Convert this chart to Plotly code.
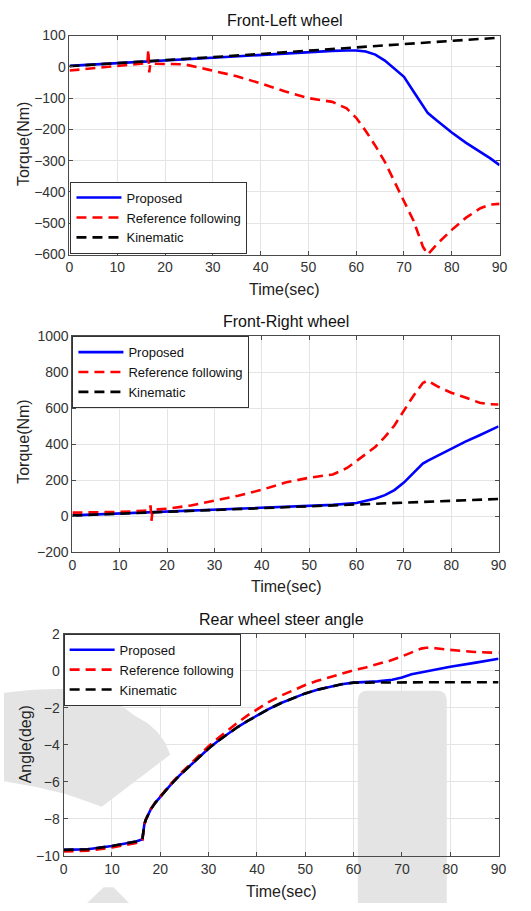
import plotly.graph_objects as go

W, H = 531, 911

# ---------------- data ----------------
# Front-Left wheel torque (Nm)
fl_t_prop = [0, 10, 20, 30, 40, 50, 55, 58, 60, 62, 64, 66, 68, 70, 72, 74, 75, 77, 80, 83, 86, 88, 90]
fl_prop = [3, 12, 21, 30, 39, 47, 51, 52, 52, 49, 39, 20, -6, -32, -79, -126, -148, -173, -210, -243, -272, -292, -314]
fl_t_ref = [0, 5, 10, 15, 16.3, 16.5, 16.7, 16.9, 18, 20, 24, 29, 35, 40, 45, 50, 55, 58, 60, 62, 64, 66, 68,
            70, 72, 74, 75, 77, 80, 83, 86, 88, 90]
fl_ref = [-12, -5, 2, 9, 12, 55, -18, 10, 10, 10, 8, -9, -30, -53, -78, -100, -112, -133, -163, -205, -252, -304,
          -367, -429, -492, -576, -599, -565, -521, -482, -452, -440, -438]
fl_t_kin = [0, 10, 20, 30, 40, 50, 60, 70, 80, 90]
fl_kin = [2, 11, 21, 31, 41, 52, 63, 74, 83, 93]

# Front-Right wheel torque (Nm)
fr_t_prop = [0, 10, 20, 30, 40, 50, 55, 60, 62, 64, 66, 68, 70, 72, 74, 75, 77, 80, 83, 86, 88, 90]
fr_prop = [5, 16, 27, 37, 47, 57, 63, 74, 84, 98, 117, 145, 187, 237, 292, 308, 335, 374, 414, 450, 473, 499]
fr_t_ref = [0, 5, 10, 15, 16.3, 16.5, 16.7, 16.9, 18, 20, 25, 30, 35, 40, 45, 50, 55, 58, 60, 62, 64, 66, 68,
            70, 72, 74, 75, 77, 80, 83, 86, 88, 90]
fr_ref = [20, 21, 24, 30, 32, 60, -25, 30, 38, 42, 60, 87, 114, 147, 187, 214, 232, 268, 305, 346, 386, 441, 504,
          586, 668, 740, 753, 722, 686, 659, 630, 622, 620]
fr_t_kin = [0, 10, 20, 30, 40, 50, 60, 70, 80, 90]
fr_kin = [4, 14, 24, 35, 45, 55, 65, 76, 86, 96]

# Rear wheel steer angle (deg)
rr_t_prop = [0, 5, 10, 15, 16.3, 16.45, 16.7, 17, 17.5, 18, 19, 20, 22, 24, 26, 28, 30, 32, 34, 36, 38, 40,
             42.5, 45, 47.5, 50, 52.5, 55, 57.5, 60, 65, 68, 70, 72, 75, 80, 85, 90]
rr_prop = [-9.68, -9.64, -9.47, -9.22, -9.1, -8.7, -8.3, -8.05, -7.75, -7.5, -7.12, -6.8, -6.2, -5.65, -5.15,
           -4.65, -4.2, -3.78, -3.4, -3.04, -2.72, -2.42, -2.06, -1.74, -1.46, -1.22, -1.02, -0.86, -0.73, -0.64,
           -0.57, -0.48, -0.36, -0.18, -0.02, 0.22, 0.43, 0.65]
rr_t_ref = [0, 5, 10, 15, 16.3, 16.45, 16.7, 17, 17.5, 18, 19, 20, 22, 24, 26, 28, 30, 32, 34, 36, 38, 40,
            42.5, 45, 47.5, 50, 52.5, 55, 57.5, 60, 62.5, 65, 67.5, 70, 72, 74, 75, 77, 80, 85, 90]
rr_ref = [-9.76, -9.72, -9.55, -9.3, -9.15, -8.7, -8.3, -8.05, -7.74, -7.48, -7.1, -6.77, -6.17, -5.6, -5.08,
          -4.57, -4.08, -3.63, -3.2, -2.8, -2.42, -2.07, -1.68, -1.34, -1.04, -0.77, -0.54, -0.35, -0.15, 0.03,
          0.18, 0.35, 0.55, 0.78, 1.0, 1.2, 1.25, 1.22, 1.13, 1.02, 0.97]
rr_t_kin = [0, 5, 10, 15, 16.3, 16.45, 16.7, 17, 17.5, 18, 19, 20, 22, 24, 26, 28, 30, 32, 34, 36, 38, 40,
            42.5, 45, 47.5, 50, 52.5, 55, 57.5, 60, 65, 70, 75, 80, 85, 90]
rr_kin = [-9.68, -9.64, -9.47, -9.22, -9.1, -8.7, -8.3, -8.05, -7.75, -7.5, -7.12, -6.8, -6.2, -5.65, -5.15,
          -4.65, -4.2, -3.78, -3.4, -3.04, -2.72, -2.42, -2.06, -1.74, -1.46, -1.22, -1.02, -0.86, -0.73, -0.64,
          -0.62, -0.62, -0.62, -0.62, -0.62, -0.62]

series_names = ["Proposed", "Reference following", "Kinematic"]
titles = ["Front-Left wheel", "Front-Right wheel", "Rear wheel steer angle"]
ytitles = ["Torque(Nm)", "Torque(Nm)", "Angle(deg)"]
xtitle = "Time(sec)"


# ---------------- helpers ----------------
def px(x):
    return x / W


def py(y):
    return 1 - y / H


FONT = "Liberation Sans, Arial, sans-serif"
GRID = "#e4e4e4"
BLUE = "#0000ff"
RED = "#ff0000"
BLACK = "#000000"

fig = go.Figure()

panels = [
    (fl_t_prop, fl_prop, fl_t_ref, fl_ref, fl_t_kin, fl_kin),
    (fr_t_prop, fr_prop, fr_t_ref, fr_ref, fr_t_kin, fr_kin),
    (rr_t_prop, rr_prop, rr_t_ref, rr_ref, rr_t_kin, rr_kin),
]
for i, (tp, vp, tr, vr, tk, vk) in enumerate(panels):
    ax = "" if i == 0 else str(i + 1)
    lg = "legend" if i == 0 else f"legend{i + 1}"
    fig.add_trace(go.Scatter(x=tp, y=vp, mode="lines", name=series_names[0], xaxis="x" + ax, yaxis="y" + ax,
                             legend=lg, line=dict(color=BLUE, width=2.6)))
    fig.add_trace(go.Scatter(x=tr, y=vr, mode="lines", name=series_names[1], xaxis="x" + ax, yaxis="y" + ax,
                             legend=lg, line=dict(color=RED, width=2.6, dash="10px,6px")))
    fig.add_trace(go.Scatter(x=tk, y=vk, mode="lines", name=series_names[2], xaxis="x" + ax, yaxis="y" + ax,
                             legend=lg, line=dict(color=BLACK, width=2.6, dash="10px,6px")))

# plot-area boxes in pixels: (left, right, top, bottom)
boxes = [(67, 507, 28, 251), (70, 506, 334, 554), (61, 506, 637, 863)]
yranges = [([-600, 100], 100), ([-200, 1000], 200), ([-10, 2], 2)]

axis_common = dict(showgrid=True, gridcolor=GRID, gridwidth=1, zeroline=False, showline=True, mirror="ticks",
                   linecolor="#4a4a4a", linewidth=1, ticks="inside", ticklen=4, tickcolor="#4a4a4a",
                   tickfont=dict(family=FONT, size=14, color="#333333"))

layout = dict(width=W, height=H, margin=dict(l=0, r=0, t=0, b=0), paper_bgcolor="white",
              plot_bgcolor="rgba(0,0,0,0)", showlegend=True)

for i, (l, r, t, b) in enumerate(boxes):
    ax = "" if i == 0 else str(i + 1)
    layout["xaxis" + ax] = dict(domain=[px(l), px(r)], range=[0, 90], dtick=10, anchor="y" + ax, **axis_common)
    layout["yaxis" + ax] = dict(domain=[py(b), py(t)], range=yranges[i][0], dtick=yranges[i][1],
                                anchor="x" + ax, **axis_common)

legend_common = dict(bgcolor="white", bordercolor="#333333", borderwidth=1, itemwidth=45,
                     font=dict(family=FONT, size=13, color="#111111"), tracegroupgap=0,
                     xref="paper", yref="paper")
layout["legend"] = dict(x=px(68), y=py(250), xanchor="left", yanchor="bottom", **legend_common)
layout["legend2"] = dict(x=px(70), y=py(334), xanchor="left", yanchor="top", **legend_common)
layout["legend3"] = dict(x=px(61), y=py(637), xanchor="left", yanchor="top", **legend_common)

annotations = []
title_pos = [(287, 13), (289, 319), (284, 622)]
xt_pos = [(287, 287), (289, 589), (284, 899)]
yt_pos = [(20, 139), (20, 442), (22, 750)]
for i in range(3):
    annotations.append(dict(text=titles[i], x=px(title_pos[i][0]), y=py(title_pos[i][1]), xref="paper",
                            yref="paper", showarrow=False, xanchor="center", yanchor="middle",
                            font=dict(family=FONT, size=16, color="#111111")))
    annotations.append(dict(text=xtitle, x=px(xt_pos[i][0]), y=py(xt_pos[i][1]), xref="paper",
                            yref="paper", showarrow=False, xanchor="center", yanchor="middle",
                            font=dict(family=FONT, size=16, color="#222222")))
    annotations.append(dict(text=ytitles[i], x=px(yt_pos[i][0]), y=py(yt_pos[i][1]), xref="paper",
                            yref="paper", showarrow=False, xanchor="center", yanchor="middle", textangle=-90,
                            font=dict(family=FONT, size=16, color="#222222")))
layout["annotations"] = annotations


# watermark shapes (background decoration in the source image)
def path_from(points):
    return "M " + " L ".join(f"{px(x):.5f},{py(y):.5f}" for x, y in points) + " Z"


WM = "#e4e4e4"
x0, x1, yt, yb, rr = 362, 453, 695, 911, 10
rect_path = (f"M {px(x0):.5f},{py(yb):.5f} L {px(x0):.5f},{py(yt + rr):.5f} "
             f"Q {px(x0):.5f},{py(yt):.5f} {px(x0 + rr):.5f},{py(yt):.5f} "
             f"L {px(x1 - rr):.5f},{py(yt):.5f} Q {px(x1):.5f},{py(yt):.5f} {px(x1):.5f},{py(yt + rr):.5f} "
             f"L {px(x1):.5f},{py(yb):.5f} Z")
arc_pts = [(0, 697), (30, 694), (63, 693), (100, 702), (120, 710), (133, 720), (147, 728), (157, 737),
           (165, 748), (170, 760), (100, 813), (83, 807), (63, 800), (33, 793), (0, 787)]
small_pts = [(85, 911), (102, 895), (112, 895), (128, 911)]
layout["shapes"] = [
    dict(type="path", path=rect_path, xref="paper", yref="paper", fillcolor=WM, line=dict(width=0),
         layer="below"),
    dict(type="path", path=path_from(arc_pts), xref="paper", yref="paper", fillcolor=WM, line=dict(width=0),
         layer="below"),
    dict(type="path", path=path_from(small_pts), xref="paper", yref="paper", fillcolor=WM, line=dict(width=0),
         layer="below"),
]

fig.update_layout(**layout)
fig.write_html("out.html")
